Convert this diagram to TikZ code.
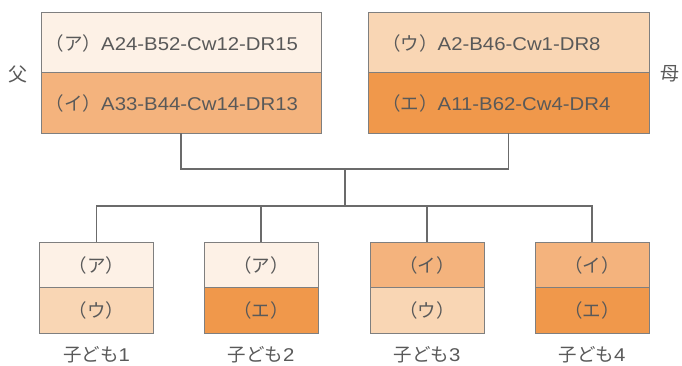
\documentclass[tikz,border=0pt]{standalone}
\usepackage{fontspec}
\setmainfont{Liberation Sans}[FakeStretch=1.10]
\newfontfamily\jp{Noto Sans CJK JP}
\definecolor{cream}{HTML}{FDF1E6}
\definecolor{peach}{HTML}{F9D6B4}
\definecolor{apricot}{HTML}{F4B37D}
\definecolor{orangex}{HTML}{F0984B}
\definecolor{txt}{HTML}{595959}
\definecolor{edge}{HTML}{7F7F7F}
\definecolor{wire}{HTML}{6B6B6B}
\tikzset{
  cell/.style={draw=edge, line width=0.9pt, inner sep=0pt, minimum width=#1},
  pbox/.style={cell=280pt, minimum height=60.5pt},
  cbox/.style={cell=114pt, minimum height=45.5pt, font=\fontsize{18.5}{22}\selectfont\jp, text=txt},
  ptext/.style={anchor=west, inner sep=0pt, font=\fontsize{18.5}{22}\selectfont, text=txt},
  side/.style={inner sep=0pt, font=\fontsize{19}{22}\selectfont\jp, text=txt},
  kidlabel/.style={inner sep=0pt, font=\fontsize{18.5}{22}\selectfont, text=txt},
  wirel/.style={draw=wire, line width=1.4pt}
}
\begin{document}
\begin{tikzpicture}[x=1pt, y=-1pt]
\useasboundingbox (0,0) rectangle (682,365);
% parents
\node[pbox, fill=cream]   (fa) at (181,42.2) {};
\node[pbox, fill=apricot] (fi) at (181,102.7) {};
\node[pbox, fill=peach, minimum width=281pt]   (mu) at (508.5,42.2) {};
\node[pbox, fill=orangex, minimum width=281pt] (me) at (508.5,102.7) {};
\node[ptext] (tfa) at (45.5,43) {{\jp （ア）}A24-B52-Cw12-DR15};
\node[ptext] (tfi) at (45.5,103.5) {{\jp （イ）}A33-B44-Cw14-DR13};
\node[ptext] (tmu) at (382,43) {{\jp （ウ）}A2-B46-Cw1-DR8};
\node[ptext] (tme) at (382,103.5) {{\jp （エ）}A11-B62-Cw4-DR4};
\node[side] (chichi) at (18,74) {父};
\node[side] (haha) at (670,74) {母};
% children
\node[cbox, fill=cream]   (c1a) at (96.5,265) {（ア）};
\node[cbox, fill=peach]   (c1b) at (96.5,310.5) {（ウ）};
\node[cbox, fill=cream]   (c2a) at (261,265) {（ア）};
\node[cbox, fill=orangex] (c2b) at (261,310.5) {（エ）};
\node[cbox, fill=apricot] (c3a) at (427,265) {（イ）};
\node[cbox, fill=peach]   (c3b) at (427,310.5) {（ウ）};
\node[cbox, fill=apricot] (c4a) at (592,265) {（イ）};
\node[cbox, fill=orangex] (c4b) at (592,310.5) {（エ）};
\node[kidlabel] (k1) at (96.5,354.5) {{\jp 子ども}1};
\node[kidlabel] (k2) at (261,354.5) {{\jp 子ども}2};
\node[kidlabel] (k3) at (427,354.5) {{\jp 子ども}3};
\node[kidlabel] (k4) at (592,354.5) {{\jp 子ども}4};
% connectors
\coordinate (j) at (345,169);
\coordinate (k) at (345,206);
\draw[wirel] (fi.south) |- (j) -| (me.south);
\draw[wirel] (j) -- (k);
\draw[wirel] (c1a.north) |- (k) -| (c4a.north);
\draw[wirel] (c2a.north) -- (c2a.north |- k);
\draw[wirel] (c3a.north) -- (c3a.north |- k);
\end{tikzpicture}
\end{document}
